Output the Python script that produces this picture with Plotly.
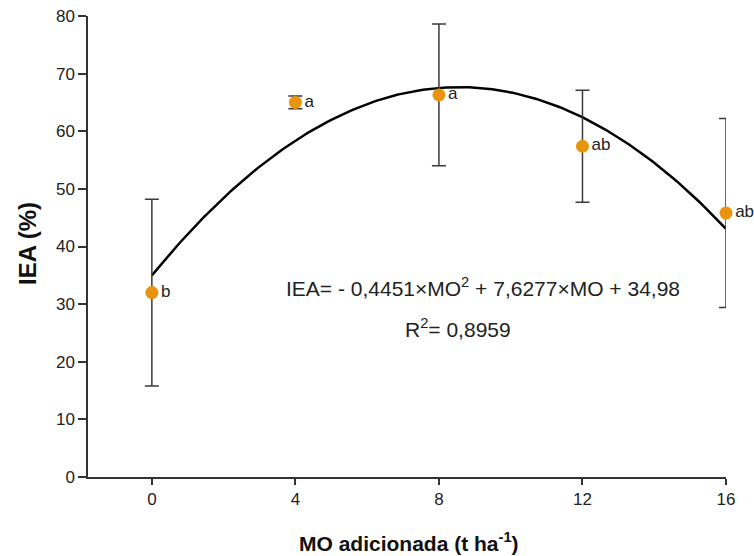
import numpy as np
import plotly.graph_objects as go

# Data
doses = [0, 4, 8, 12, 16]
iea_mean = [32.0, 65.0, 66.3, 57.4, 45.8]
iea_err = [16.2, 1.1, 12.3, 9.7, 16.4]
letters = ["b", "a", "a", "ab", "ab"]
# Fitted quadratic: IEA = a*MO^2 + b*MO + c
coef = [-0.4451, 7.6277, 34.98]
x_ticks = [0, 4, 8, 12, 16]
y_ticks = [0, 10, 20, 30, 40, 50, 60, 70, 80]

W, H = 754, 556
L, R, T, B = 88, 28, 16, 79
pw, ph = W - L - R, H - T - B

def px_to_paper(px, py):
    return (px - L) / pw, (H - B - py) / ph

xf = np.linspace(min(doses), max(doses), 200)
yf = coef[0] * xf**2 + coef[1] * xf + coef[2]

font_family = "Liberation Sans, Arial, sans-serif"

fig = go.Figure()
fig.add_trace(go.Scatter(
    x=xf, y=yf, mode="lines",
    line=dict(color="black", width=2.5),
    hoverinfo="skip", showlegend=False, cliponaxis=False,
))
fig.add_trace(go.Scatter(
    x=doses, y=iea_mean, mode="markers+text",
    marker=dict(color="#E8940F", size=13),
    error_y=dict(type="data", array=iea_err, visible=True,
                 color="#3a3a3a", thickness=1.5, width=7),
    text=letters, textposition="middle right",
    textfont=dict(family=font_family, size=17, color="#222222"),
    showlegend=False, cliponaxis=False,
))

xt_x, xt_y = px_to_paper(409, 542)
yt_x, yt_y = px_to_paper(27, 244)
eq_x, eq_y = px_to_paper(483, 287)
r2_x, r2_y = px_to_paper(458, 328)

fig.update_layout(
    width=W, height=H,
    margin=dict(l=L, r=R, t=T, b=B),
    paper_bgcolor="white", plot_bgcolor="white",
    font=dict(family=font_family, size=17, color="#222222"),
    xaxis=dict(
        range=[-1.78, 16], tickvals=x_ticks, ticktext=[str(v) for v in x_ticks],
        showgrid=False, zeroline=False, showline=True, linecolor="#333333", linewidth=1.5,
        ticks="outside", ticklen=6, tickwidth=1.5, tickcolor="#333333",
        tickfont=dict(size=17, color="#222222"), automargin=False,
    ),
    yaxis=dict(
        range=[0, 80], tickvals=y_ticks,
        showgrid=False, zeroline=False, showline=True, linecolor="#333333", linewidth=1.5,
        ticks="outside", ticklen=8, tickwidth=1.5, tickcolor="#333333",
        tickfont=dict(size=17, color="#222222"), automargin=False,
    ),
    annotations=[
        dict(text="IEA= - 0,4451×MO<sup>2</sup> + 7,6277×MO + 34,98",
             x=eq_x, y=eq_y, xref="paper", yref="paper", showarrow=False,
             xanchor="center", yanchor="middle",
             font=dict(size=21, color="#222222")),
        dict(text="R<sup>2</sup>= 0,8959",
             x=r2_x, y=r2_y, xref="paper", yref="paper", showarrow=False,
             xanchor="center", yanchor="middle",
             font=dict(size=21, color="#222222")),
        dict(text="<b>MO adicionada (t ha<sup>-1</sup>)</b>",
             x=xt_x, y=xt_y, xref="paper", yref="paper", showarrow=False,
             xanchor="center", yanchor="middle",
             font=dict(size=21, color="#111111")),
        dict(text="<b>IEA (%)</b>",
             x=yt_x, y=yt_y, xref="paper", yref="paper", showarrow=False,
             xanchor="center", yanchor="middle",
             textangle=-90, font=dict(size=24, color="#111111")),
    ],
)

fig.write_html("out.html", config={"displayModeBar": False},
               post_script="document.body.style.margin='0';")
